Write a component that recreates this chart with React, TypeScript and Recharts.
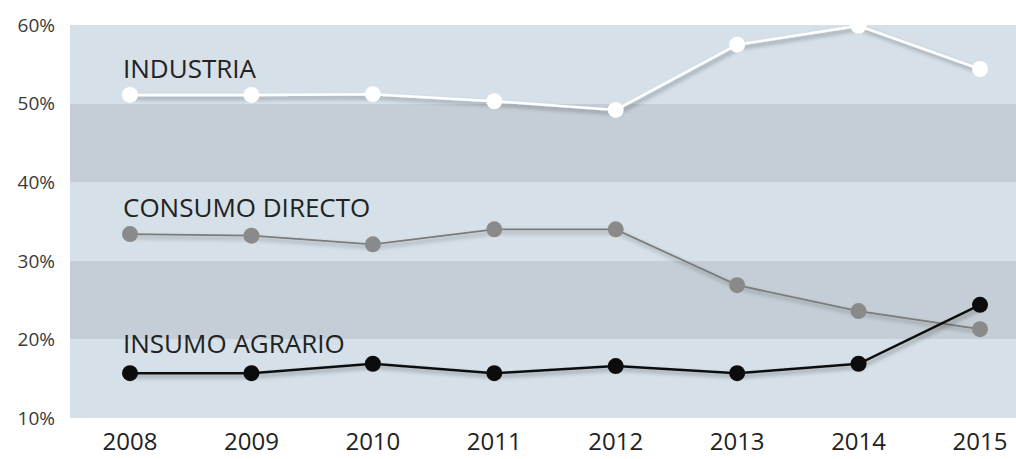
import React from 'react';
import {
  LineChart,
  Line,
  XAxis,
  YAxis,
  CartesianGrid,
  LabelList
} from 'recharts';

const years = ['2008', '2009', '2010', '2011', '2012', '2013', '2014', '2015'];
const industria = [51.1, 51.1, 51.2, 50.3, 49.2, 57.5, 59.9, 54.4];
const consumoDirecto = [33.4, 33.2, 32.1, 34.0, 34.0, 26.9, 23.6, 21.3];
const insumoAgrario = [15.7, 15.7, 16.9, 15.7, 16.6, 15.7, 16.9, 24.4];
const yTicks = [10, 20, 30, 40, 50, 60];

const data = years.map((year, i) => ({
  year,
  industria: industria[i],
  consumo: consumoDirecto[i],
  insumo: insumoAgrario[i]
}));

const FONT = '"Open Sans", "DejaVu Sans", sans-serif';

// series name written above the first point only
const seriesLabel = (text: string, dy: number) => (props: any) => {
  if (props.index !== 0) return null;
  return (
    <text
      x={props.x - 7}
      y={props.y + dy}
      fill="#222"
      fontSize={26}
      fontFamily={FONT}
    >
      {text}
    </text>
  );
};

export default function App() {
  return (
    <div style={{ position: 'absolute', left: 0, top: 0, background: '#fff' }}>
      <svg width={0} height={0} style={{ position: 'absolute' }}>
        <defs>
          <filter id="dropShadow" x="-50%" y="-50%" width="200%" height="200%">
            <feDropShadow dx="2" dy="3" stdDeviation="2" floodColor="#000" floodOpacity="0.35" />
          </filter>
        </defs>
      </svg>
      <style>{`.recharts-line { filter: url(#dropShadow); }`}</style>
      <LineChart
        width={1016}
        height={459}
        data={data}
        margin={{ top: 25, right: 0, bottom: 0, left: 0 }}
      >
        <CartesianGrid
          vertical={false}
          stroke="none"
          horizontalFill={['#d6e0e8', '#c5ced6']}
          fillOpacity={1}
        />
        <XAxis
          dataKey="year"
          height={41}
          padding={{ left: 60, right: 36 }}
          axisLine={false}
          tickLine={false}
          tickMargin={9}
          tick={{ fill: '#222', fontSize: 24, fontFamily: FONT }}
          interval={0}
        />
        <YAxis
          width={70}
          domain={[10, 60]}
          ticks={yTicks}
          tickFormatter={(v) => `${v}%`}
          axisLine={false}
          tickLine={false}
          tickSize={0}
          tickMargin={15}
          tick={{ fill: '#3a3a3a', fontSize: 19, fontFamily: FONT }}
        />
        <Line
          dataKey="industria"
          stroke="#ffffff"
          strokeWidth={2.5}
          dot={{ r: 8, fill: '#ffffff', stroke: 'none' }}
          isAnimationActive={false}
        >
          <LabelList dataKey="industria" content={seriesLabel('INDUSTRIA', -17)} />
        </Line>
        <Line
          dataKey="consumo"
          stroke="#7b7b7b"
          strokeWidth={1.8}
          dot={{ r: 8, fill: '#8a8a8a', stroke: 'none' }}
          isAnimationActive={false}
        >
          <LabelList dataKey="consumo" content={seriesLabel('CONSUMO DIRECTO', -17)} />
        </Line>
        <Line
          dataKey="insumo"
          stroke="#111"
          strokeWidth={2.5}
          dot={{ r: 8, fill: '#0c0c0c', stroke: 'none' }}
          isAnimationActive={false}
        >
          <LabelList dataKey="insumo" content={seriesLabel('INSUMO AGRARIO', -20)} />
        </Line>
      </LineChart>
    </div>
  );
}
